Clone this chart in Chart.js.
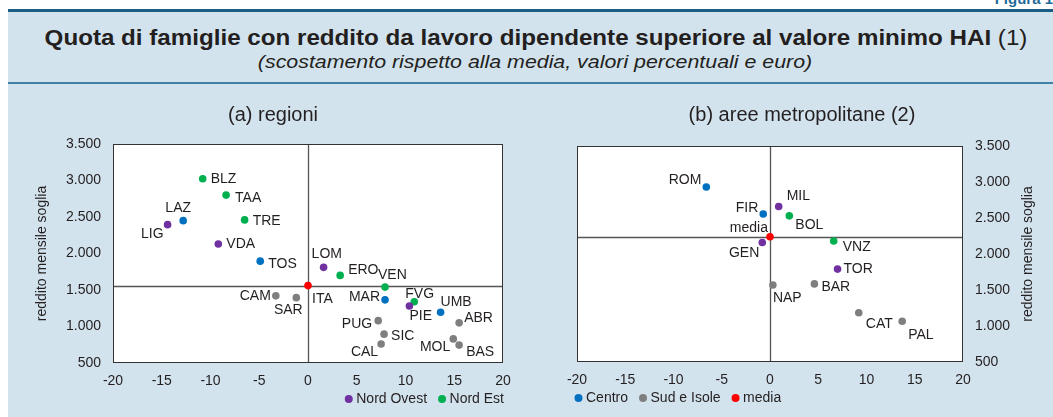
<!DOCTYPE html>
<html lang="it">
<head>
<meta charset="utf-8">
<script src="https://cdn.jsdelivr.net/npm/chart.js@4.4.1/dist/chart.umd.min.js"></script>
<style>
  html, body { margin: 0; padding: 0; background: #fff; }
  body { width: 1053px; height: 417px; position: relative; overflow: hidden;
         font-family: "Liberation Sans", Arial, sans-serif; color: #231f20; }
  .figura { position: absolute; right: 0; top: -10px; font: bold 15px "Liberation Sans", Arial, sans-serif; color: #1f6a98; }
  .pannello { position: absolute; left: 8px; top: 9px; right: 0; bottom: 0; background: #d3e3ee; border-top: 3px solid #1b5e85; }
  .sep { position: absolute; left: 8px; right: 0; top: 82px; height: 2px; background: #3f82a5; }
  .titolo, .sottotitolo { position: absolute; white-space: nowrap; transform-origin: center; }
  .titolo { top: 26px; font-size: 22px; line-height: 24px; }
  .sottotitolo { top: 52px; font-size: 18.5px; line-height: 20px; }
  #regioni { position: absolute; left: 8px; top: 85px; }
  #metro { position: absolute; left: 540px; top: 85px; }
</style>
</head>
<body>
<div class="figura">Figura 1</div>
<div class="pannello"></div>
<div class="sep"></div>
<div class="titolo" id="titolo"><b>Quota di famiglie con reddito da lavoro dipendente superiore al valore minimo HAI</b> (1)</div>
<div class="sottotitolo" id="sottotitolo"><i>(scostamento rispetto alla media, valori percentuali e euro)</i></div>
<canvas id="regioni" width="532" height="332"></canvas>
<canvas id="metro" width="513" height="332"></canvas>
<script>
// gruppi: 0 Nord Ovest, 1 Nord Est, 2 Centro, 3 Sud e Isole, 4 media
const gruppi = ['Nord Ovest', 'Nord Est', 'Centro', 'Sud e Isole', 'media'];
const colori = ['#7030a0', '#00b050', '#0070c0', '#7f7f7f', '#ff0000'];

// (a) regioni: x = scostamento % dalla media, y = reddito mensile soglia
const regCodici = ['LIG','VDA','LOM','PIE','BLZ','TAA','TRE','ERO','VEN','FVG','LAZ','TOS','MAR','UMB','CAM','SAR','PUG','SIC','CAL','MOL','BAS','ABR','ITA'];
const regX = [-14.4, -9.2, 1.6, 10.4, -10.8, -8.4, -6.5, 3.3, 7.9, 10.9, -12.8, -4.9, 7.9, 13.6, -3.3, -1.2, 7.2, 7.8, 7.5, 14.9, 15.5, 15.5, 0];
const regY = [2395, 2130, 1810, 1280, 3025, 2800, 2460, 1700, 1540, 1340, 2450, 1895, 1365, 1195, 1420, 1395, 1080, 895, 760, 830, 745, 1050, 1560];
const regGruppo = [0,0,0,0,1,1,1,1,1,1,2,2,2,2,3,3,3,3,3,3,3,3,4];

// (b) aree metropolitane
const metroCodici = ['MIL','GEN','TOR','BOL','VNZ','ROM','FIR','NAP','BAR','CAT','PAL','media'];
const metroX = [0.9, -0.8, 7.0, 2.0, 6.6, -6.6, -0.7, 0.3, 4.6, 9.2, 13.7, 0];
const metroY = [2660, 2160, 1790, 2530, 2180, 2930, 2555, 1570, 1585, 1185, 1065, 2240];
const metroGruppo = [0,0,0,1,1,2,2,3,3,3,3,4];

const xTicks = [-20, 20, 5];      // min, max, passo
const yTicks = [500, 3500, 500];

// posizione delle etichette rispetto al punto: [dx, dy, allineamento]
const regPos = [
  [-4, 9, 'right'], [8, 0, 'left'], [-12, -13, 'left'], [0, 10, 'left'],
  [8, 0, 'left'], [9, 3, 'left'], [8, 1, 'left'], [8, -5, 'left'], [-7, -12, 'left'], [-9, -8, 'left'],
  [-5, -13, 'center'], [8, 3, 'left'], [-5, -3, 'right'], [0, -10, 'left'],
  [-5, 0, 'right'], [-8, 12, 'center'], [-6, 3, 'right'], [7, 2, 'left'], [-3, 8, 'right'],
  [-3, 8, 'right'], [7, 7, 'left'], [5, -5, 'left'], [4, 14, 'left']
];
const metroPos = [
  [8, -10, 'left'], [-3, 11, 'right'], [6, 0, 'left'], [6, 9, 'left'], [9, 6, 'left'],
  [-5, -7, 'right'], [-5, -6, 'right'], [0, 13, 'left'], [7, 3, 'left'], [7, 11, 'left'],
  [6, 14, 'left'], [-2, -9, 'right']
];

const FONT = '"Liberation Sans", Arial, sans-serif';
const TXT = '#231f20';

function fitText(id, cx, w) {
  const el = document.getElementById(id);
  const k = w / el.offsetWidth;
  el.style.left = cx + 'px';
  el.style.transform = `translateX(-50%) scaleX(${k})`;
}
fitText('titolo', 536, 983);
fitText('sottotitolo', 535, 554);

function buildDatasets(codici, xs, ys, gr, pos) {
  return gruppi.map((g, gi) => {
    const idx = codici.map((_, i) => i).filter(i => gr[i] === gi);
    return {
      label: g,
      data: idx.map(i => ({ x: xs[i], y: ys[i] })),
      codici: idx.map(i => codici[i]),
      pos: idx.map(i => pos[i]),
      backgroundColor: colori[gi],
      borderWidth: 0,
      pointRadius: 3.8,
      pointHoverRadius: 3.8
    };
  });
}

const fmt = v => String(v).replace(/\B(?=(\d{3})+(?!\d))/g, '.');

const decor = {
  id: 'decor',
  beforeDraw(chart) {
    const { ctx, chartArea: a } = chart;
    ctx.save();
    ctx.fillStyle = '#fff';
    ctx.fillRect(a.left, a.top, a.right - a.left, a.bottom - a.top);
    ctx.restore();
  },
  beforeDatasetsDraw(chart, args, o) {
    const { ctx, chartArea: a, scales: { x, y } } = chart;
    ctx.save();
    ctx.strokeStyle = '#555';
    ctx.lineWidth = 1.3;
    const py = Math.round(y.getPixelForValue(o.mediaY)) + 0.5;
    const px = Math.round(x.getPixelForValue(0)) + 0.5;
    ctx.beginPath();
    ctx.moveTo(a.left, py); ctx.lineTo(a.right, py);
    ctx.moveTo(px, a.top); ctx.lineTo(px, a.bottom);
    ctx.stroke();
    ctx.strokeStyle = '#333';
    ctx.lineWidth = 1;
    ctx.strokeRect(a.left + 0.5, a.top + 0.5, a.right - a.left - 1, a.bottom - a.top - 1);
    ctx.restore();
  },
  afterDatasetsDraw(chart) {
    const { ctx } = chart;
    ctx.save();
    ctx.font = '14px ' + FONT;
    ctx.fillStyle = TXT;
    ctx.textBaseline = 'middle';
    chart.data.datasets.forEach((ds, i) => {
      chart.getDatasetMeta(i).data.forEach((pt, j) => {
        const [dx, dy, al] = ds.pos[j];
        ctx.textAlign = al;
        ctx.fillText(ds.codici[j], pt.x + dx, pt.y + dy);
      });
    });
    ctx.restore();
  },
  afterDraw(chart, args, o) {
    const { ctx, chartArea: a } = chart;
    ctx.save();
    ctx.fillStyle = TXT;
    // sottotitolo del pannello
    ctx.font = '20px ' + FONT;
    ctx.textAlign = 'center';
    ctx.textBaseline = 'middle';
    ctx.fillText(o.titolo, o.titoloX, 30);
    // titolo asse y
    ctx.font = '14px ' + FONT;
    ctx.translate(o.assetX, (a.top + a.bottom) / 2);
    ctx.rotate(-Math.PI / 2);
    ctx.fillText('reddito mensile soglia', 0, 0);
    ctx.setTransform(1, 0, 0, 1, 0, 0);
    // legenda
    ctx.font = '14px ' + FONT;
    ctx.textAlign = 'left';
    const items = o.legenda.map(gi => ({ t: gruppi[gi], c: colori[gi], w: ctx.measureText(gruppi[gi]).width }));
    const tot = items.reduce((s, it) => s + 7.5 + it.w, 0) + 15 * (items.length - 1);
    let cx = o.legAlign === 'end' ? a.right + 1 - tot : a.left + 1.5;
    const ly = a.bottom + 36;
    items.forEach(it => {
      ctx.fillStyle = it.c;
      ctx.beginPath();
      ctx.arc(cx, ly, 4, 0, Math.PI * 2);
      ctx.fill();
      ctx.fillStyle = TXT;
      ctx.fillText(it.t, cx + 7.5, ly + 0.5);
      cx += 7.5 + it.w + 15;
    });
    ctx.restore();
  }
};

function makeChart(id, datasets, cfg) {
  return new Chart(document.getElementById(id), {
    type: 'scatter',
    data: { datasets },
    plugins: [decor],
    options: {
      responsive: false,
      animation: false,
      layout: { padding: cfg.padding },
      plugins: {
        legend: { display: false },
        tooltip: { enabled: false },
        decor: cfg.decor
      },
      scales: {
        x: {
          type: 'linear', min: xTicks[0], max: xTicks[1],
          grid: { display: false, drawTicks: false },
          border: { display: false },
          ticks: { stepSize: xTicks[2], color: TXT, font: { size: 14, family: FONT }, padding: 10 },
          afterFit: s => { s.height = cfg.xH; }
        },
        y: {
          position: cfg.yPos, min: yTicks[0], max: yTicks[1],
          grid: { display: false, drawTicks: false },
          border: { display: false },
          ticks: { stepSize: yTicks[2], color: TXT, font: { size: 14, family: FONT }, padding: 12, callback: fmt },
          afterFit: s => { s.width = cfg.yW; }
        }
      }
    }
  });
}

makeChart('regioni', buildDatasets(regCodici, regX, regY, regGruppo, regPos), {
  padding: { top: 59, right: 37, bottom: 24, left: 0 },
  xH: 30, yW: 105, yPos: 'left',
  decor: { mediaY: regY[regCodici.indexOf('ITA')], titolo: '(a) regioni', titoloX: 265, assetX: 34, legenda: [0, 1], legAlign: 'end' }
});

makeChart('metro', buildDatasets(metroCodici, metroX, metroY, metroGruppo, metroPos), {
  padding: { top: 61, right: 0, bottom: 24, left: 37 },
  xH: 31, yW: 90, yPos: 'right',
  decor: { mediaY: metroY[metroCodici.indexOf('media')], titolo: '(b) aree metropolitane (2)', titoloX: 262, assetX: 488, legenda: [2, 3, 4], legAlign: 'start' }
});
</script>
</body>
</html>
